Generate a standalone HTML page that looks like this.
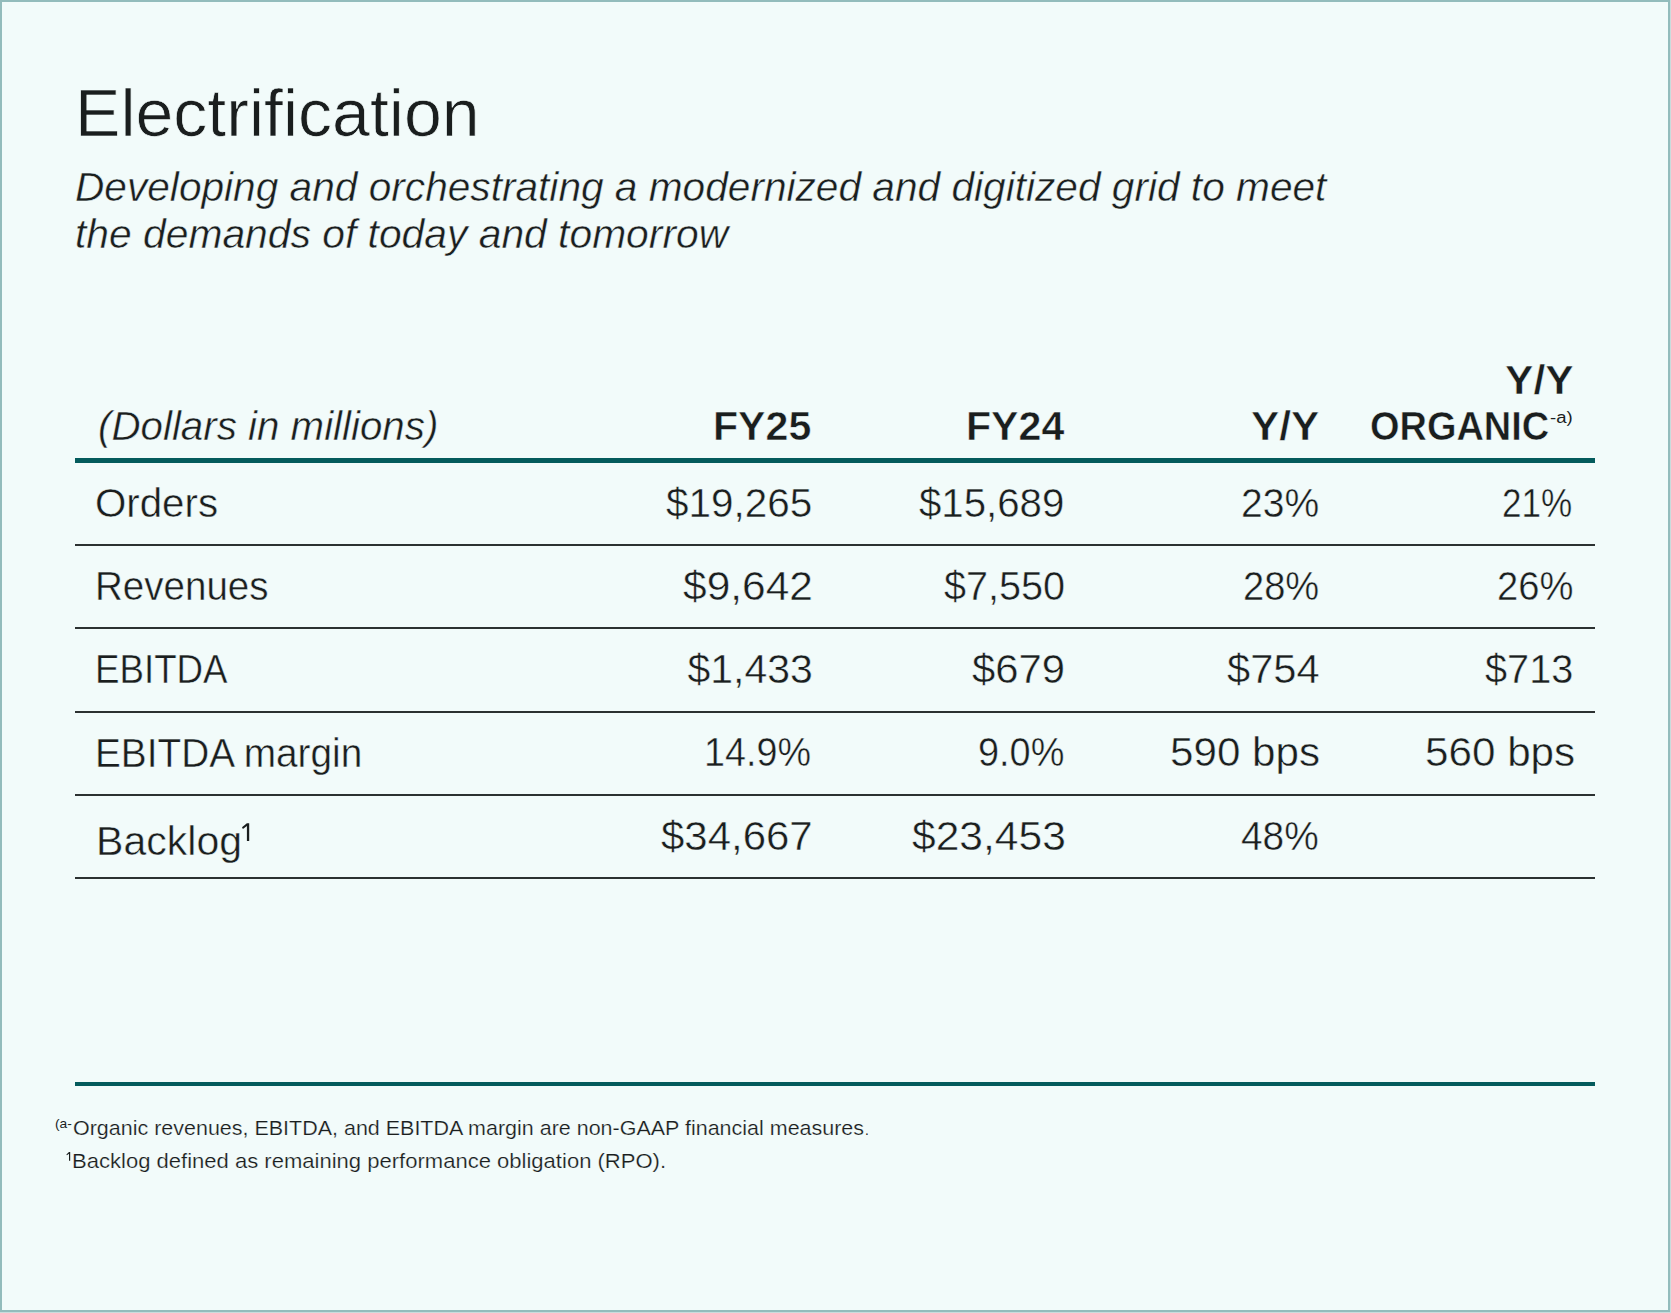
<!DOCTYPE html>
<html><head><meta charset="utf-8"><title>Electrification</title><style>
html,body{margin:0;padding:0;}
body{width:1671px;height:1313px;position:relative;overflow:hidden;background:#c9dcdc;font-family:"Liberation Sans",sans-serif;color:#1a1e1e;-webkit-font-smoothing:antialiased;}
#pg{position:absolute;left:0;top:0;width:1670px;height:1312px;background:#93bcbc;}
#in{position:absolute;left:2px;top:2px;width:1666px;height:1308px;background:#f2fbfa;}
.t{position:absolute;white-space:nowrap;line-height:1;transform-origin:0 0;}
.l{position:absolute;}
</style></head>
<body><div id="pg"></div><div id="in"></div>
<div class="t" id="title" style="font-size:65.8px;top:81.35px;left:74.80px;transform:scaleX(1.0341);-webkit-text-stroke:0.7px #f2fbfa;">Electrification</div>
<div class="t" id="sub1" style="font-size:40.8px;top:167.32px;left:75.01px;font-style:italic;transform:scaleX(0.9960);-webkit-text-stroke:0.45px #f2fbfa;">Developing and orchestrating a modernized and digitized grid to meet</div>
<div class="t" id="sub2" style="font-size:40.8px;top:214.32px;left:75.00px;font-style:italic;transform:scaleX(1.0000);-webkit-text-stroke:0.45px #f2fbfa;">the demands of today and tomorrow</div>
<div class="t" id="dollars" style="font-size:40.8px;top:406.23px;left:97.62px;font-style:italic;transform:scaleX(0.9877);-webkit-text-stroke:0.45px #f2fbfa;">(Dollars in millions)</div>
<div class="t" id="fy25" style="font-size:41.2px;top:406.25px;left:713.01px;font-weight:700;transform:scaleX(0.9979);-webkit-text-stroke:0.5px #f2fbfa;">FY25</div>
<div class="t" id="fy24" style="font-size:41.2px;top:406.25px;left:966.40px;font-weight:700;transform:scaleX(0.9979);-webkit-text-stroke:0.5px #f2fbfa;">FY24</div>
<div class="t" id="yy" style="font-size:41.2px;top:406.25px;left:1251.17px;font-weight:700;transform:scaleX(1.0281);-webkit-text-stroke:0.5px #f2fbfa;">Y/Y</div>
<div class="t" id="yy2" style="font-size:41.2px;top:360.25px;left:1505.17px;font-weight:700;transform:scaleX(1.0344);-webkit-text-stroke:0.5px #f2fbfa;">Y/Y</div>
<div class="t" id="organic" style="font-size:41.2px;top:406.25px;left:1369.96px;font-weight:700;transform:scaleX(0.9215);-webkit-text-stroke:0.5px #f2fbfa;">ORGANIC</div>
<div class="t" id="supa" style="font-size:16px;top:410.00px;left:1549.95px;transform:scaleX(1.1605);">-a)</div>
<div class="t" id="orders" style="font-size:41.0px;top:482.62px;left:95.04px;transform:scaleX(0.9820);-webkit-text-stroke:0.45px #f2fbfa;">Orders</div>
<div class="t" id="revenues" style="font-size:41.0px;top:566.23px;left:95.18px;transform:scaleX(0.9400);-webkit-text-stroke:0.45px #f2fbfa;">Revenues</div>
<div class="t" id="ebitda" style="font-size:41.0px;top:648.62px;left:95.31px;transform:scaleX(0.8952);-webkit-text-stroke:0.45px #f2fbfa;">EBITDA</div>
<div class="t" id="margin" style="font-size:41.0px;top:732.53px;left:95.16px;transform:scaleX(0.9459);-webkit-text-stroke:0.45px #f2fbfa;">EBITDA margin</div>
<div class="t" id="backlog" style="font-size:41.0px;top:820.62px;left:95.80px;transform:scaleX(1.0014);-webkit-text-stroke:0.45px #f2fbfa;">Backlog</div>
<div class="t" id="v11" style="font-size:41.0px;top:482.92px;left:665.61px;transform:scaleX(0.9863);-webkit-text-stroke:0.45px #f2fbfa;">$19,265</div>
<div class="t" id="v12" style="font-size:41.0px;top:482.92px;left:919.12px;transform:scaleX(0.9800);-webkit-text-stroke:0.45px #f2fbfa;">$15,689</div>
<div class="t" id="v13" style="font-size:41.0px;top:482.92px;left:1240.90px;transform:scaleX(0.9520);-webkit-text-stroke:0.45px #f2fbfa;">23%</div>
<div class="t" id="v14" style="font-size:41.0px;top:482.92px;left:1501.68px;transform:scaleX(0.8558);-webkit-text-stroke:0.45px #f2fbfa;">21%</div>
<div class="t" id="v21" style="font-size:41.0px;top:566.23px;left:682.96px;transform:scaleX(1.0361);-webkit-text-stroke:0.45px #f2fbfa;">$9,642</div>
<div class="t" id="v22" style="font-size:41.0px;top:566.23px;left:944.03px;transform:scaleX(0.9659);-webkit-text-stroke:0.45px #f2fbfa;">$7,550</div>
<div class="t" id="v23" style="font-size:41.0px;top:566.23px;left:1242.74px;transform:scaleX(0.9291);-webkit-text-stroke:0.45px #f2fbfa;">28%</div>
<div class="t" id="v24" style="font-size:41.0px;top:566.23px;left:1496.54px;transform:scaleX(0.9318);-webkit-text-stroke:0.45px #f2fbfa;">26%</div>
<div class="t" id="v31" style="font-size:41.0px;top:648.62px;left:687.40px;transform:scaleX(1.0000);-webkit-text-stroke:0.45px #f2fbfa;">$1,433</div>
<div class="t" id="v32" style="font-size:41.0px;top:648.62px;left:972.18px;transform:scaleX(1.0205);-webkit-text-stroke:0.45px #f2fbfa;">$679</div>
<div class="t" id="v33" style="font-size:41.0px;top:648.62px;left:1227.18px;transform:scaleX(1.0157);-webkit-text-stroke:0.45px #f2fbfa;">$754</div>
<div class="t" id="v34" style="font-size:41.0px;top:648.62px;left:1485.43px;transform:scaleX(0.9686);-webkit-text-stroke:0.45px #f2fbfa;">$713</div>
<div class="t" id="v41" style="font-size:41.0px;top:732.23px;left:703.64px;transform:scaleX(0.9196);-webkit-text-stroke:0.45px #f2fbfa;">14.9%</div>
<div class="t" id="v42" style="font-size:41.0px;top:732.23px;left:978.15px;transform:scaleX(0.9244);-webkit-text-stroke:0.45px #f2fbfa;">9.0%</div>
<div class="t" id="v43" style="font-size:41.0px;top:732.23px;left:1170.14px;transform:scaleX(1.0280);-webkit-text-stroke:0.45px #f2fbfa;">590 bps</div>
<div class="t" id="v44" style="font-size:41.0px;top:732.23px;left:1424.54px;transform:scaleX(1.0294);-webkit-text-stroke:0.45px #f2fbfa;">560 bps</div>
<div class="t" id="v51" style="font-size:41.0px;top:815.62px;left:660.58px;transform:scaleX(1.0235);-webkit-text-stroke:0.45px #f2fbfa;">$34,667</div>
<div class="t" id="v52" style="font-size:41.0px;top:815.62px;left:912.16px;transform:scaleX(1.0384);-webkit-text-stroke:0.45px #f2fbfa;">$23,453</div>
<div class="t" id="v53" style="font-size:41.0px;top:815.62px;left:1240.85px;transform:scaleX(0.9475);-webkit-text-stroke:0.45px #f2fbfa;">48%</div>
<div class="t" id="fn1" style="font-size:20.8px;top:1118.10px;left:72.97px;transform:scaleX(1.0327);-webkit-text-stroke:0.2px #f2fbfa;">Organic revenues, EBITDA, and EBITDA margin are non-GAAP financial measures</div>
<div class="t" id="fn1dot" style="font-size:14px;top:1123.00px;left:865.06px;transform:scaleX(0.9800);">.</div>
<div class="t" id="fn1sup" style="font-size:12.4px;top:1118.00px;left:54.89px;transform:scaleX(1.1145);">(a-</div>
<div class="t" id="fn2" style="font-size:20.8px;top:1151.10px;left:72.28px;transform:scaleX(1.0596);-webkit-text-stroke:0.2px #f2fbfa;">Backlog defined as remaining performance obligation (RPO).</div>
<svg style="position:absolute;left:240px;top:822px" width="12" height="21" viewBox="0 0 12 21"><path d="M6.9 1.2H9.2V19.1H6.9V4.1L2.9 7.0L2.0 5.3Z" fill="#1a1e1e"/></svg>
<svg style="position:absolute;left:64px;top:1150px" width="8" height="12" viewBox="0 0 8 12"><path d="M5.0 2.1H6.2V10.7H5.0V3.8L2.9 5.2L2.4 4.4Z" fill="#1a1e1e"/></svg>
<div class="l" style="left:75px;top:458px;width:1520px;height:4.6px;background:#045b5c;"></div>
<div class="l" style="left:75px;top:544px;width:1520px;height:2px;background:#2c3131;"></div>
<div class="l" style="left:75px;top:627px;width:1520px;height:2px;background:#2c3131;"></div>
<div class="l" style="left:75px;top:710.5px;width:1520px;height:2px;background:#2c3131;"></div>
<div class="l" style="left:75px;top:794px;width:1520px;height:2px;background:#2c3131;"></div>
<div class="l" style="left:75px;top:877px;width:1520px;height:2px;background:#2c3131;"></div>
<div class="l" style="left:75px;top:1081.8px;width:1520px;height:4.3px;background:#045b5c;"></div>
</body></html>
